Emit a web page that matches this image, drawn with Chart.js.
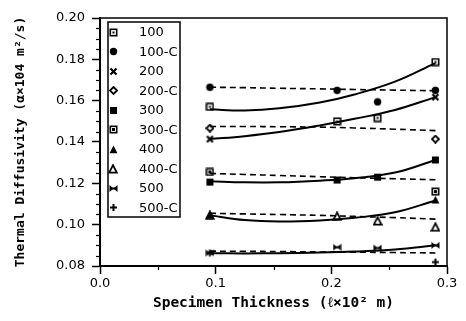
<!DOCTYPE html>
<html lang="en">
<head>
<meta charset="UTF-8">
<title>Thermal Diffusivity vs Specimen Thickness</title>
<script src="https://cdn.jsdelivr.net/npm/chart.js"></script>
<style>
  html, body { margin: 0; padding: 0; background: #fff; }
</style>
</head>
<body>
<canvas id="chart" width="466" height="321"></canvas>
<script>
// measured thicknesses (x 10^2 m)
const thickness = [0.095, 0.205, 0.24, 0.29];

// measured diffusivities, null where no marker shows
const s100  = [0.157, 0.150, 0.1516, 0.1787];
const s100C = [0.1665, 0.165, 0.1594, 0.165];
const s200  = [0.1414, null, null, 0.1617];
const s200C = [0.1467, null, null, 0.1414];
const s300  = [0.1206, 0.1216, 0.123, 0.1313];
const s300C = [0.1255, null, null, 0.116];
const s400  = [0.1046, null, null, 0.112];
const s400C = [0.1045, 0.104, 0.1018, 0.0988];
const s500  = [0.0863, 0.0891, 0.0887, 0.090];
const s500C = [0.0863, null, null, 0.0819];

// fitted curves
const fitX     = [0.095, 0.125, 0.155, 0.19, 0.22, 0.255, 0.29];
const fit100   = [0.1558, 0.1553, 0.1563, 0.1591, 0.1630, 0.1692, 0.1782];
const fit100C  = [0.1665, 0.1663, 0.1660, 0.1657, 0.1654, 0.1651, 0.1648];
const fit200   = [0.1414, 0.1428, 0.1448, 0.1480, 0.1512, 0.1555, 0.1617];
const fit200C  = [0.1475, 0.1475, 0.1474, 0.1472, 0.1468, 0.1462, 0.1455];
const fit300   = [0.1210, 0.1205, 0.1205, 0.1213, 0.1225, 0.1252, 0.1313];
const fit300C  = [0.1248, 0.1243, 0.1238, 0.1232, 0.1227, 0.1222, 0.1217];
const fit400   = [0.1045, 0.1022, 0.1015, 0.1020, 0.1033, 0.1060, 0.1117];
const fit400C  = [0.1055, 0.1052, 0.1049, 0.1045, 0.1040, 0.1034, 0.1027];
const fit500   = [0.0862, 0.0861, 0.0862, 0.0865, 0.0870, 0.0880, 0.0900];
const fit500C  = [0.0872, 0.0871, 0.0870, 0.0868, 0.0867, 0.0865, 0.0863];

const xTicks = [0, 0.1, 0.2, 0.3];
const yTicks = [0.08, 0.10, 0.12, 0.14, 0.16, 0.18, 0.20];

// little marker pictures
function marker(size, draw) {
  const c = document.createElement('canvas');
  c.width = c.height = size;
  const g = c.getContext('2d');
  g.fillStyle = g.strokeStyle = '#000';
  draw(g, size / 2);
  return c;
}
const mk = {
  sqDot: marker(9, g => { g.lineWidth = 1.6; g.strokeRect(1.3, 1.3, 6.4, 6.4); g.fillRect(3.5, 3.5, 2, 2); }),
  circle: marker(9, (g, m) => { g.beginPath(); g.arc(m, m, 3.7, 0, Math.PI * 2); g.fill(); }),
  cross: marker(9, g => { g.lineWidth = 2.2; g.beginPath(); g.moveTo(1.5, 1.5); g.lineTo(7.5, 7.5); g.moveTo(7.5, 1.5); g.lineTo(1.5, 7.5); g.stroke(); }),
  diamond: marker(9, (g, m) => { g.lineWidth = 1.8; g.beginPath(); g.moveTo(m, 1); g.lineTo(8, m); g.lineTo(m, 8); g.lineTo(1, m); g.closePath(); g.stroke(); }),
  square: marker(9, g => { g.fillRect(1, 1, 7, 7); }),
  sqBox: marker(9, g => { g.lineWidth = 1.6; g.strokeRect(1.3, 1.3, 6.4, 6.4); g.fillRect(3, 3, 3, 3); }),
  tri: marker(9, (g, m) => { g.beginPath(); g.moveTo(m, 0.5); g.lineTo(8.5, 8.2); g.lineTo(0.5, 8.2); g.closePath(); g.fill(); }),
  triOpen: marker(10, (g, m) => { g.lineWidth = 1.8; g.beginPath(); g.moveTo(m, 1.2); g.lineTo(8.8, 8.6); g.lineTo(1.2, 8.6); g.closePath(); g.stroke(); }),
  bowtie: marker(9, g => { g.beginPath(); g.moveTo(0.5, 1); g.lineTo(4.5, 4.5); g.lineTo(0.5, 8); g.closePath(); g.moveTo(8.5, 1); g.lineTo(4.5, 4.5); g.lineTo(8.5, 8); g.closePath(); g.fill(); g.fillRect(2.5, 3.5, 4, 2); }),
  plus: marker(9, (g, m) => { g.lineWidth = 2; g.beginPath(); g.moveTo(m, 1); g.lineTo(m, 8); g.moveTo(1, m); g.lineTo(8, m); g.stroke(); })
};

const series = [
  { label: '100',   pts: s100,  fit: fit100,  mark: mk.sqDot,   dash: false },
  { label: '100-C', pts: s100C, fit: fit100C, mark: mk.circle,  dash: true },
  { label: '200',   pts: s200,  fit: fit200,  mark: mk.cross,   dash: false },
  { label: '200-C', pts: s200C, fit: fit200C, mark: mk.diamond, dash: true },
  { label: '300',   pts: s300,  fit: fit300,  mark: mk.square,  dash: false },
  { label: '300-C', pts: s300C, fit: fit300C, mark: mk.sqBox,   dash: true },
  { label: '400',   pts: s400,  fit: fit400,  mark: mk.tri,     dash: false },
  { label: '400-C', pts: s400C, fit: fit400C, mark: mk.triOpen, dash: true },
  { label: '500',   pts: s500,  fit: fit500,  mark: mk.bowtie,  dash: false },
  { label: '500-C', pts: s500C, fit: fit500C, mark: mk.plus,    dash: true }
];

const datasets = [];
series.forEach(s => {
  datasets.push({
    label: s.label,
    data: thickness.map((x, i) => ({ x, y: s.pts[i] })),
    showLine: false,
    pointStyle: s.mark,
    pointRadius: 4,
    order: 0
  });
});
series.forEach(s => {
  datasets.push({
    label: s.label + ' fit',
    data: fitX.map((x, i) => ({ x, y: s.fit[i] })),
    borderColor: '#000',
    borderWidth: s.dash ? 1.6 : 2,
    borderDash: s.dash ? [6, 4] : [],
    pointRadius: 0,
    tension: 0.4,
    fill: false,
    order: 1
  });
});

const frame = {
  id: 'frame',
  afterDraw(chart) {
    const { ctx, chartArea: ca, scales: { x, y } } = chart;
    ctx.save();
    ctx.strokeStyle = '#000';
    ctx.lineWidth = 1.5;
    ctx.strokeRect(ca.left, ca.top, ca.right - ca.left, ca.bottom - ca.top);
    // minor ticks
    ctx.lineWidth = 1.2;
    for (let v = 0.085; v < 0.2; v += 0.005) {
      if (Math.abs(v * 50 - Math.round(v * 50)) < 1e-6) continue;
      const py = Math.round(y.getPixelForValue(v)) + 0.5;
      ctx.beginPath(); ctx.moveTo(ca.left - 4, py); ctx.lineTo(ca.left, py); ctx.stroke();
    }
    for (const v of [0.05, 0.15, 0.25]) {
      const px = Math.round(x.getPixelForValue(v)) + 0.5;
      ctx.beginPath(); ctx.moveTo(px, ca.bottom); ctx.lineTo(px, ca.bottom + 4); ctx.stroke();
    }
    // legend box
    const lx = ca.left + 8, ly = ca.top + 4, lw = 72, lh = 195;
    ctx.fillStyle = '#fff';
    ctx.fillRect(lx, ly, lw, lh);
    ctx.lineWidth = 1.5;
    ctx.strokeRect(lx, ly, lw, lh);
    ctx.fillStyle = '#000';
    ctx.font = '13px "DejaVu Sans"';
    ctx.textBaseline = 'middle';
    series.forEach((s, i) => {
      const ry = ly + 10 + i * 19.5;
      ctx.drawImage(s.mark, Math.round(lx + 5 - s.mark.width / 2), Math.round(ry - s.mark.height / 2));
      ctx.fillText(s.label, lx + 31, ry + 1);
    });
    ctx.restore();
  }
};

new Chart(document.getElementById('chart'), {
  type: 'line',
  data: { datasets },
  options: {
    responsive: false,
    animation: false,
    layout: { padding: { top: 18, right: 19, left: 0, bottom: 0 } },
    plugins: { legend: { display: false }, tooltip: { enabled: false } },
    scales: {
      x: {
        type: 'linear', min: 0, max: 0.3,
        afterBuildTicks: s => { s.ticks = xTicks.map(v => ({ value: v })); },
        afterFit: s => { s.height = 55; },
        ticks: { color: '#000', font: { family: 'DejaVu Sans', size: 13 }, padding: 2, callback: v => v.toFixed(1) },
        grid: { drawOnChartArea: false, drawTicks: true, tickLength: 8, tickColor: '#000', tickWidth: 1.5 },
        border: { color: '#000', width: 2 },
        title: { display: true, text: 'Specimen Thickness (ℓ×10² m)', color: '#000',
                 font: { family: 'DejaVu Sans Mono', size: 14.5, weight: 'bold' }, padding: { top: 0, bottom: 9 } }
      },
      y: {
        type: 'linear', min: 0.08, max: 0.2,
        afterBuildTicks: s => { s.ticks = yTicks.map(v => ({ value: v })); },
        afterFit: s => { s.width = 100; },
        ticks: { color: '#000', font: { family: 'DejaVu Sans', size: 13 }, padding: 7, callback: v => v.toFixed(2) },
        grid: { drawOnChartArea: false, drawTicks: true, tickLength: 8, tickColor: '#000', tickWidth: 1.5 },
        border: { color: '#000', width: 2 },
        title: { display: true, text: 'Thermal Diffusivity (α×104 m²/s)', color: '#000',
                 font: { family: 'DejaVu Sans Mono', size: 13, weight: 'bold' }, padding: { top: 13, bottom: 0 } }
      }
    }
  },
  plugins: [frame]
});
</script>
</body>
</html>
